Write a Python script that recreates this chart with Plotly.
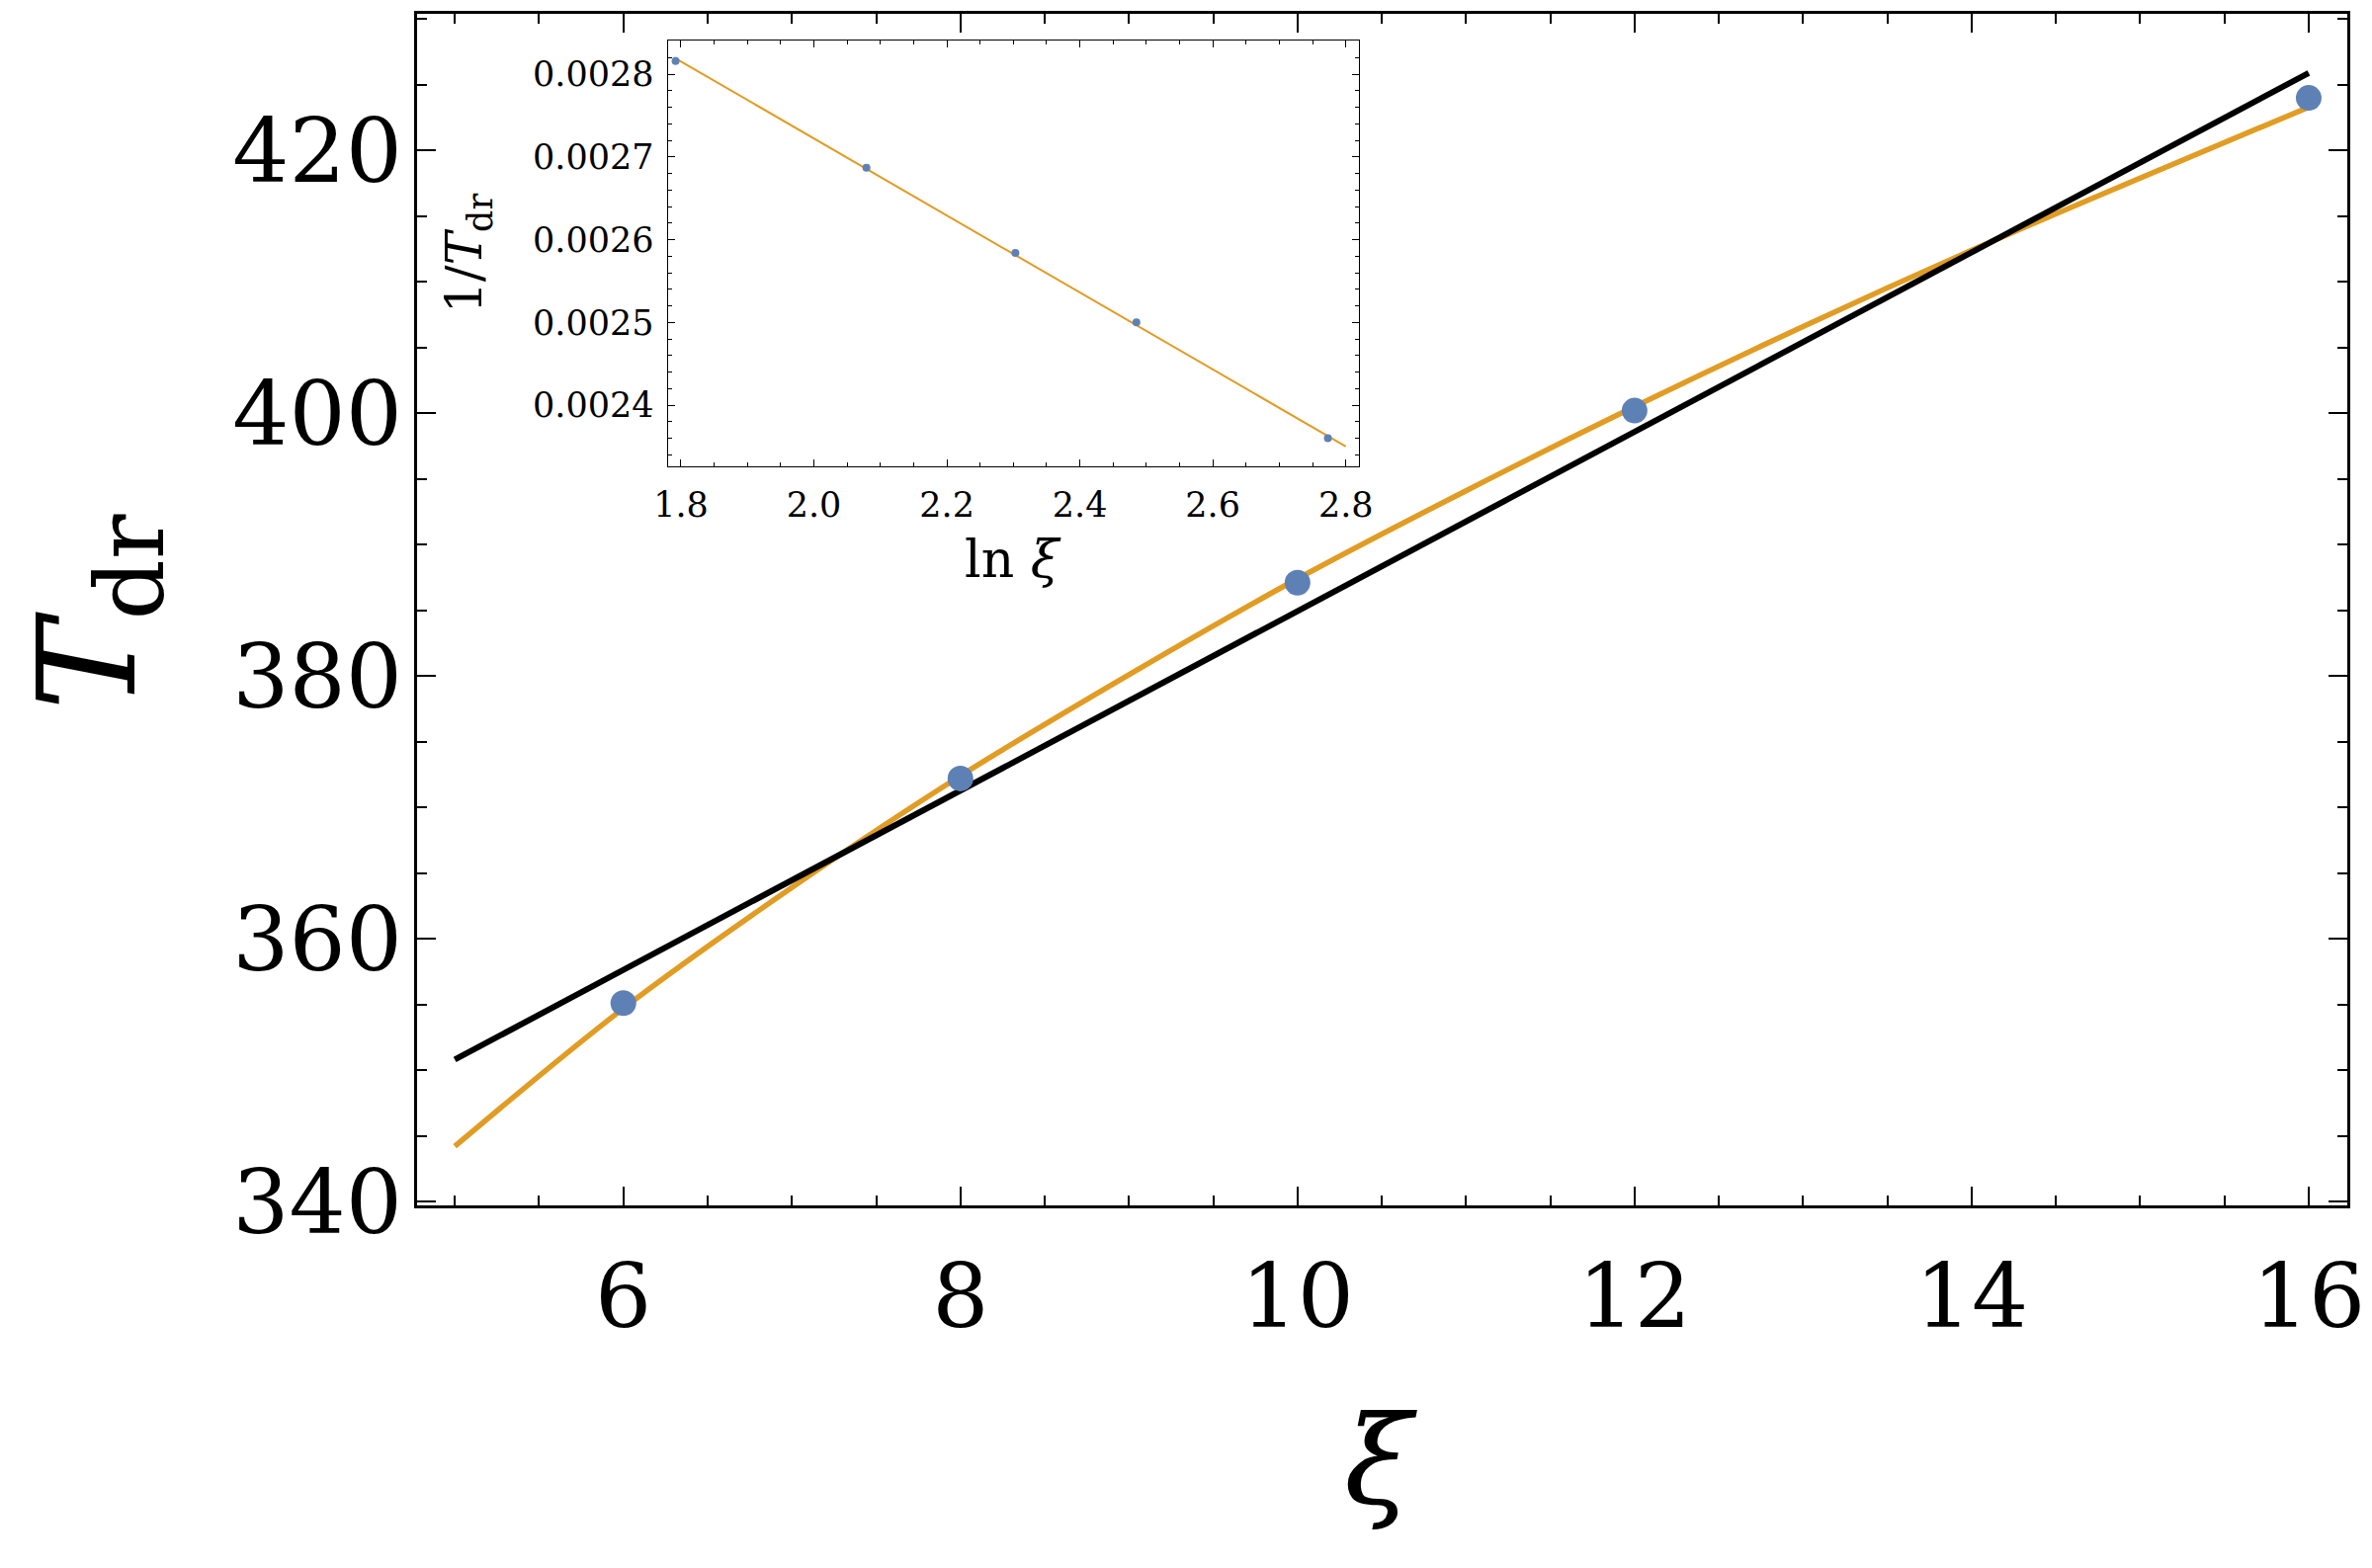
import plotly.graph_objects as go

# ---- data ----
xi = [6, 8, 10, 12, 16]
T_dr = [355.1, 372.2, 387.1, 400.2, 424.0]

lin_fit_xi = [5, 16]
lin_fit_T = [350.8, 425.9]

curve_xi = [5, 6, 7, 8, 9, 10, 11, 12, 13, 14, 15, 16]
curve_T = [344.2, 354.7, 363.9, 372.4, 380.1, 387.4, 394.1, 400.5, 406.6, 412.4, 417.9, 423.3]

ln_xi = [1.792, 2.079, 2.303, 2.485, 2.773]
inv_T = [0.002816, 0.002687, 0.002584, 0.002500, 0.002360]

inset_fit_x = [1.79, 2.80]
inset_fit_y = [0.002820, 0.002350]

main_xticks = [6, 8, 10, 12, 14, 16]
main_yticks = [340, 360, 380, 400, 420]
inset_xticks = [1.8, 2.0, 2.2, 2.4, 2.6, 2.8]
inset_xlabels = ["1.8", "2.0", "2.2", "2.4", "2.6", "2.8"]
inset_yticks = [0.0024, 0.0025, 0.0026, 0.0027, 0.0028]
inset_ylabels = ["0.0024", "0.0025", "0.0026", "0.0027", "0.0028"]

BLUE = "#5E81B5"
ORANGE = "#E19C24"
SERIF = "DejaVu Serif"

W, H = 2400, 1587

fig = go.Figure()

fig.add_trace(go.Scatter(x=curve_xi, y=curve_T, mode="lines",
                         line=dict(color=ORANGE, width=5.5, shape="spline"),
                         xaxis="x", yaxis="y", showlegend=False))
fig.add_trace(go.Scatter(x=lin_fit_xi, y=lin_fit_T, mode="lines",
                         line=dict(color="black", width=6),
                         xaxis="x", yaxis="y", showlegend=False))
fig.add_trace(go.Scatter(x=xi, y=T_dr, mode="markers",
                         marker=dict(color=BLUE, size=26),
                         xaxis="x", yaxis="y", showlegend=False))

fig.add_trace(go.Scatter(x=inset_fit_x, y=inset_fit_y, mode="lines",
                         line=dict(color=ORANGE, width=2),
                         xaxis="x2", yaxis="y2", showlegend=False))
fig.add_trace(go.Scatter(x=ln_xi, y=inv_T, mode="markers",
                         marker=dict(color=BLUE, size=8),
                         xaxis="x2", yaxis="y2", showlegend=False))

main_font = dict(family=SERIF, size=90, color="black")
inset_font = dict(family=SERIF, size=35, color="black")

fig.update_layout(
    width=W, height=H,
    margin=dict(l=0, r=0, t=0, b=0, autoexpand=False),
    paper_bgcolor="white", plot_bgcolor="white",
    xaxis=dict(domain=[422 / W, 2375 / W], range=[4.776, 16.229],
               tickvals=main_xticks, ticks="inside", ticklen=19, tickwidth=2,
               tickcolor="black", showline=True, linecolor="black", linewidth=3,
               mirror="ticks", showgrid=False, zeroline=False, automargin=False,
               tickfont=main_font, ticklabelstandoff=12,
               minor=dict(dtick=0.5, tick0=0, ticks="inside", ticklen=10,
                          tickwidth=1.5, tickcolor="black", showgrid=False),
               anchor="y"),
    yaxis=dict(domain=[1 - 1219.5 / H, 1 - 14 / H], range=[339.74, 430.4],
               tickvals=main_yticks, ticks="inside", ticklen=19, tickwidth=2,
               tickcolor="black", showline=True, linecolor="black", linewidth=3,
               mirror="ticks", showgrid=False, zeroline=False, automargin=False,
               tickfont=main_font, ticklabelstandoff=-6,
               minor=dict(dtick=5, tick0=0, ticks="inside", ticklen=10,
                          tickwidth=1.5, tickcolor="black", showgrid=False),
               anchor="x"),
    xaxis2=dict(domain=[675.5 / W, 1374.5 / W], range=[1.78, 2.819],
                tickvals=inset_xticks, ticktext=inset_xlabels,
                ticks="inside", ticklen=7, tickwidth=1, tickcolor="black",
                showline=True, linecolor="black", linewidth=1, mirror="ticks",
                showgrid=False, zeroline=False, tickfont=inset_font,
                ticklabelstandoff=8, automargin=False,
                minor=dict(dtick=0.05, tick0=0, ticks="inside", ticklen=4,
                           tickwidth=1, tickcolor="black", showgrid=False),
                anchor="y2"),
    yaxis2=dict(domain=[1 - 472 / H, 1 - 40.7 / H], range=[0.002326, 0.002841],
                tickvals=inset_yticks, ticktext=inset_ylabels,
                ticks="inside", ticklen=7, tickwidth=1, tickcolor="black",
                showline=True, linecolor="black", linewidth=1, mirror="ticks",
                showgrid=False, zeroline=False, tickfont=inset_font,
                ticklabelstandoff=6, automargin=False,
                minor=dict(dtick=0.00002, tick0=0, ticks="inside", ticklen=4,
                           tickwidth=1, tickcolor="black", showgrid=False),
                anchor="x2"),
)

annotations = [
    dict(text="<i>T</i><sub>dr</sub>", x=98 / W, y=1 - 620 / H, textangle=-90,
         font=dict(family=SERIF, size=137, color="black")),
    dict(text="<i>ξ</i>", x=1397 / W, y=1 - 1478 / H,
         font=dict(family=SERIF, size=125, color="black")),
    dict(text="1/<i>T</i><sub>dr</sub>", x=473 / W, y=1 - 257 / H, textangle=-90,
         font=dict(family=SERIF, size=50, color="black")),
    dict(text="ln <i>ξ</i>", x=1025 / W, y=1 - 566 / H,
         font=dict(family=SERIF, size=52, color="black")),
]
for a in annotations:
    a.update(xref="paper", yref="paper", showarrow=False,
             xanchor="center", yanchor="middle")
fig.update_layout(annotations=annotations)

fig.write_html("out.html")
